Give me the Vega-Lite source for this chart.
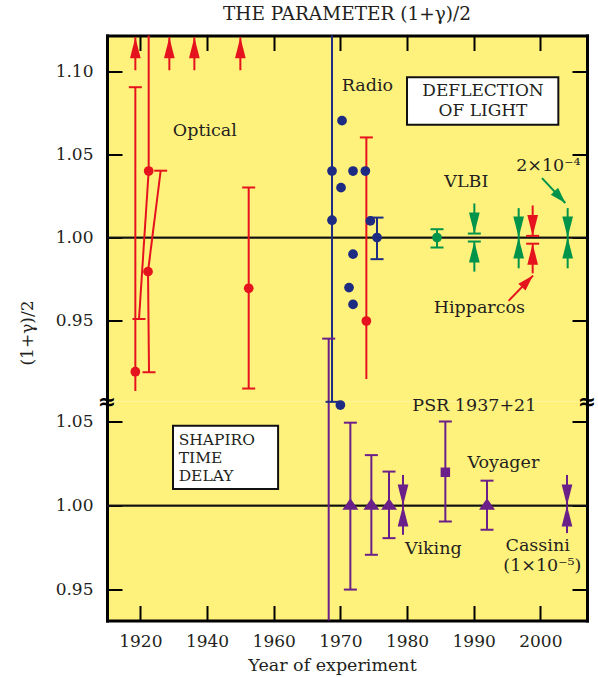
{
  "$schema": "https://vega.github.io/schema/vega-lite/v6.json",
  "background": "white",
  "padding": {"left": 18, "top": 4.5, "right": 8, "bottom": 5},
  "spacing": 0,
  "bounds": "flush",
  "config": {
    "view": {"stroke": null, "fill": "#fff27c"},
    "font": "DejaVu Serif",
    "axis": {"grid": false, "domainColor": "#000", "domainWidth": 3, "domainCap": "square", "tickColor": "#000", "tickWidth": 2, "tickSize": -15, "labelFont": "DejaVu Serif", "labelFontSize": 17, "labelColor": "#231f20", "labelPadding": 29, "titleFont": "DejaVu Serif", "titleFontWeight": "normal", "titleFontSize": 17.5, "titleColor": "#231f20"},
    "text": {"font": "DejaVu Serif", "fontSize": 17.5, "color": "#231f20"}
  },
  "datasets": {
    "tBars": [
      {"s": "r", "year": 1918.5, "year2": 1918.5, "v": 0.9077, "v2": 1.0904},
      {"s": "r", "year": 1922.5, "year2": 1922.5, "v": 1.04, "v2": 1.1215},
      {"s": "r", "year": 1922.5, "year2": 1919.6, "v": 1.04, "v2": 0.951},
      {"s": "r", "year": 1926.1, "year2": 1922.3, "v": 1.0402, "v2": 0.9795},
      {"s": "r", "year": 1922.3, "year2": 1922.6, "v": 0.9795, "v2": 0.919},
      {"s": "r", "year": 1952.5, "year2": 1952.5, "v": 0.9092, "v2": 1.0301},
      {"s": "r", "year": 1973.9, "year2": 1973.9, "v": 0.9149, "v2": 1.0602},
      {"s": "b", "year": 1968.75, "year2": 1968.75, "v": 0.9014, "v2": 1.1215},
      {"s": "b", "year": 1975.5, "year2": 1975.5, "v": 0.987, "v2": 1.012},
      {"s": "g", "year": 1984.5, "year2": 1984.5, "v": 0.994, "v2": 1.005}
    ],
    "tCaps": [
      {"s": "r", "year": 1918.5, "v": 1.0904},
      {"s": "r", "year": 1919.6, "v": 0.951},
      {"s": "r", "year": 1926.1, "v": 1.0402},
      {"s": "r", "year": 1922.6, "v": 0.919},
      {"s": "r", "year": 1952.5, "v": 1.0301},
      {"s": "r", "year": 1952.5, "v": 0.9092},
      {"s": "r", "year": 1973.9, "v": 1.0602},
      {"s": "r", "year": 1998.85, "v": 1.001},
      {"s": "r", "year": 1998.85, "v": 0.9963},
      {"s": "b", "year": 1975.5, "v": 0.987},
      {"s": "b", "year": 1975.5, "v": 1.012},
      {"s": "g", "year": 1984.5, "v": 0.994},
      {"s": "g", "year": 1984.5, "v": 1.005},
      {"s": "g", "year": 1990.1, "v": 1.0024},
      {"s": "g", "year": 1990.1, "v": 0.9976}
    ],
    "tDots": [
      {"s": "r", "year": 1918.5, "v": 0.9193},
      {"s": "r", "year": 1922.5, "v": 1.04},
      {"s": "r", "year": 1922.3, "v": 0.9795},
      {"s": "r", "year": 1952.5, "v": 0.9695},
      {"s": "r", "year": 1973.9, "v": 0.9498},
      {"s": "b", "year": 1968.75, "v": 1.04},
      {"s": "b", "year": 1968.75, "v": 1.0104},
      {"s": "b", "year": 1970.25, "v": 1.0703},
      {"s": "b", "year": 1970.1, "v": 1.03},
      {"s": "b", "year": 1971.9, "v": 1.04},
      {"s": "b", "year": 1973.75, "v": 1.04},
      {"s": "b", "year": 1974.5, "v": 1.01},
      {"s": "b", "year": 1975.5, "v": 1.0},
      {"s": "b", "year": 1971.9, "v": 0.99},
      {"s": "b", "year": 1971.3, "v": 0.9699},
      {"s": "b", "year": 1971.9, "v": 0.9598},
      {"s": "g", "year": 1984.5, "v": 1.0}
    ],
    "tDown": [
      {"s": "r", "year": 1998.85, "from": 1.0193, "tip": 1.001},
      {"s": "g", "year": 1990.1, "from": 1.0205, "tip": 1.0024},
      {"s": "g", "year": 1996.75, "from": 1.0177, "tip": 1.0},
      {"s": "g", "year": 2004.1, "from": 1.0177, "tip": 1.0}
    ],
    "tUp": [
      {"s": "r", "year": 1918.5, "from": 1.1006, "tip": 1.1205},
      {"s": "r", "year": 1928.7, "from": 1.1006, "tip": 1.1205},
      {"s": "r", "year": 1936.2, "from": 1.1006, "tip": 1.1205},
      {"s": "r", "year": 1950.0, "from": 1.1006, "tip": 1.1205},
      {"s": "r", "year": 1998.85, "from": 0.9785, "tip": 0.9963},
      {"s": "g", "year": 1990.1, "from": 0.9795, "tip": 0.9976},
      {"s": "g", "year": 1996.75, "from": 0.9815, "tip": 1.0},
      {"s": "g", "year": 2004.1, "from": 0.9815, "tip": 1.0}
    ],
    "tPointer": [
      {"s": "g", "year": 2000.25, "year2": 2003.75, "v": 1.0357, "v2": 1.0208},
      {"s": "r", "year": 1995.24, "year2": 1998.9, "v": 0.9619, "v2": 0.9771}
    ],
    "tText": [
      {"label": "Optical", "year": 1939.35, "v": 1.0639},
      {"label": "Radio", "year": 1974.05, "v": 1.091},
      {"label": "VLBI", "year": 1988.9, "v": 1.0331},
      {"label": "2×10⁻⁴", "year": 2001.2, "v": 1.0428},
      {"label": "Hipparcos", "year": 1990.85, "v": 0.9574}
    ],
    "tBox": [{"year": 1980.0, "year2": 2002.7, "v": 1.0679, "v2": 1.0964}],
    "tBoxText": [
      {"label": "DEFLECTION", "year": 1991.4, "v": 1.0883},
      {"label": "OF LIGHT", "year": 1991.4, "v": 1.0762}
    ],
    "bBars": [
      {"s": "p", "year": 1968.25, "v": 0.9316, "v2": 1.0993},
      {"s": "p", "year": 1971.5, "v": 0.95, "v2": 1.0493},
      {"s": "p", "year": 1974.65, "v": 0.9707, "v2": 1.03},
      {"s": "p", "year": 1977.3, "v": 0.9806, "v2": 1.0202},
      {"s": "p", "year": 1985.75, "v": 0.9905, "v2": 1.05},
      {"s": "p", "year": 1992.0, "v": 0.9856, "v2": 1.0148}
    ],
    "bCaps": [
      {"s": "p", "year": 1968.25, "v": 1.0993},
      {"s": "p", "year": 1971.5, "v": 0.95},
      {"s": "p", "year": 1971.5, "v": 1.0493},
      {"s": "p", "year": 1974.65, "v": 0.9707},
      {"s": "p", "year": 1974.65, "v": 1.03},
      {"s": "p", "year": 1977.3, "v": 0.9806},
      {"s": "p", "year": 1977.3, "v": 1.0202},
      {"s": "p", "year": 1985.75, "v": 0.9905},
      {"s": "p", "year": 1985.75, "v": 1.05},
      {"s": "p", "year": 1992.0, "v": 0.9856},
      {"s": "p", "year": 1992.0, "v": 1.0148},
      {"s": "b", "year": 1968.75, "v": 1.0617}
    ],
    "bDots": [
      {"s": "b", "year": 1970.0, "v": 1.0598}
    ],
    "bTri": [
      {"s": "p", "year": 1971.5, "v": 1.0},
      {"s": "p", "year": 1974.65, "v": 1.0},
      {"s": "p", "year": 1977.3, "v": 1.0},
      {"s": "p", "year": 1992.0, "v": 1.0}
    ],
    "bSq": [{"s": "p", "year": 1985.75, "v": 1.0198}],
    "bDown": [
      {"s": "p", "year": 1979.4, "from": 1.0182, "tip": 1.0},
      {"s": "p", "year": 2004.0, "from": 1.0182, "tip": 1.0}
    ],
    "bUp": [
      {"s": "p", "year": 1979.4, "from": 0.9826, "tip": 1.0},
      {"s": "p", "year": 2004.0, "from": 0.9836, "tip": 1.0}
    ],
    "bText": [
      {"label": "PSR 1937+21", "year": 1990.1, "v": 1.0591},
      {"label": "Voyager", "year": 1994.45, "v": 1.0252},
      {"label": "Viking", "year": 1983.95, "v": 0.9739},
      {"label": "Cassini", "year": 1999.6, "v": 0.9762},
      {"label": "(1×10⁻⁵)", "year": 2000.3, "v": 0.9638}
    ],
    "bBox": [{"year": 1929.8, "year2": 1960.66, "v": 1.0099, "v2": 1.0475}],
    "bBoxText": [
      {"label": "SHAPIRO", "year": 1931.5, "v": 1.0392},
      {"label": "TIME", "year": 1931.5, "v": 1.0285},
      {"label": "DELAY", "year": 1931.5, "v": 1.0178}
    ],
    "bBreak": [
      {"label": "≈", "year": 1910, "v": 1.0619},
      {"label": "≈", "year": 2007, "v": 1.0619}
    ]
  },
  "vconcat": [
    {
      "width": 480,
      "height": 366,
      "title": {"text": "THE PARAMETER (1+γ)/2", "font": "DejaVu Serif", "fontSize": 18.5, "fontWeight": "normal", "color": "#231f20", "offset": 11, "anchor": "middle"},
      "resolve": {"axis": {"x": "independent", "y": "independent"}},
      "layer": [
        {"data": {"values": [{"v": 1}]}, "mark": {"type": "rule", "color": "#111", "strokeWidth": 1.8},
         "encoding": {"y": {"field": "v", "type": "quantitative", "scale": {"domain": [0.9014, 1.1215], "nice": false, "zero": false},
           "axis": {"orient": "left", "values": [0.95, 1.0, 1.05, 1.1], "format": ".2f", "title": "(1+γ)/2", "titleX": -80, "titleY": 297, "titleAngle": -90, "titleAlign": "center", "titleBaseline": "middle", "titleFontSize": 17}}}},
        {"data": {"values": [{"v": 1}]}, "mark": {"type": "rule", "color": "#111", "strokeWidth": 1.8},
         "encoding": {"y": {"field": "v", "type": "quantitative", "scale": {"domain": [0.9014, 1.1215], "nice": false, "zero": false},
           "axis": {"orient": "right", "values": [0.95, 1.0, 1.05, 1.1], "labels": false, "title": null}}}},
        {"data": {"name": "tBars"}, "mark": {"type": "rule", "strokeWidth": 2},
         "encoding": {
           "x": {"field": "year", "type": "quantitative", "scale": {"domain": [1910, 1960, 2007], "range": [0, 166.7, 480], "nice": false, "zero": false},
             "axis": {"orient": "top", "values": [1920, 1940, 1960, 1970, 1980, 1990, 2000], "labels": false, "title": null}},
           "x2": {"field": "year2"},
           "y": {"field": "v", "type": "quantitative", "scale": {"domain": [0.9014, 1.1215], "nice": false, "zero": false}, "axis": null},
           "y2": {"field": "v2"},
           "color": {"field": "s", "type": "nominal", "scale": {"domain": ["r", "b", "g", "p"], "range": ["#e5131d", "#1d2b83", "#00934a", "#6b1f88"]}, "legend": null}}},
        {"data": {"name": "tPointer"}, "mark": {"type": "rule", "strokeWidth": 2},
         "encoding": {
           "x": {"field": "year", "type": "quantitative", "scale": {"domain": [1910, 1960, 2007], "range": [0, 166.7, 480], "nice": false, "zero": false}, "axis": null},
           "x2": {"field": "year2"},
           "y": {"field": "v", "type": "quantitative", "scale": {"domain": [0.9014, 1.1215], "nice": false, "zero": false}, "axis": null},
           "y2": {"field": "v2"},
           "color": {"field": "s", "type": "nominal", "scale": {"domain": ["r", "b", "g", "p"], "range": ["#e5131d", "#1d2b83", "#00934a", "#6b1f88"]}, "legend": null}}},
        {"data": {"name": "tCaps"}, "mark": {"type": "tick", "orient": "horizontal", "size": 13, "thickness": 2, "opacity": 1},
         "encoding": {
           "x": {"field": "year", "type": "quantitative", "scale": {"domain": [1910, 1960, 2007], "range": [0, 166.7, 480], "nice": false, "zero": false}, "axis": null},
           "y": {"field": "v", "type": "quantitative", "scale": {"domain": [0.9014, 1.1215], "nice": false, "zero": false}, "axis": null},
           "color": {"field": "s", "type": "nominal", "scale": {"domain": ["r", "b", "g", "p"], "range": ["#e5131d", "#1d2b83", "#00934a", "#6b1f88"]}, "legend": null}}},
        {"data": {"name": "tDown"}, "mark": {"type": "rule", "strokeWidth": 2},
         "encoding": {
           "x": {"field": "year", "type": "quantitative", "scale": {"domain": [1910, 1960, 2007], "range": [0, 166.7, 480], "nice": false, "zero": false}, "axis": null},
           "y": {"field": "from", "type": "quantitative", "scale": {"domain": [0.9014, 1.1215], "nice": false, "zero": false}, "axis": null},
           "y2": {"field": "tip"},
           "color": {"field": "s", "type": "nominal", "scale": {"domain": ["r", "b", "g", "p"], "range": ["#e5131d", "#1d2b83", "#00934a", "#6b1f88"]}, "legend": null}}},
        {"data": {"name": "tDown"}, "mark": {"type": "point", "shape": "M0,0L-1.07,-4.2L1.07,-4.2Z", "size": 100, "filled": true, "opacity": 1, "strokeWidth": 0},
         "encoding": {
           "x": {"field": "year", "type": "quantitative", "scale": {"domain": [1910, 1960, 2007], "range": [0, 166.7, 480], "nice": false, "zero": false}, "axis": null},
           "y": {"field": "tip", "type": "quantitative", "scale": {"domain": [0.9014, 1.1215], "nice": false, "zero": false}, "axis": null},
           "color": {"field": "s", "type": "nominal", "scale": {"domain": ["r", "b", "g", "p"], "range": ["#e5131d", "#1d2b83", "#00934a", "#6b1f88"]}, "legend": null}}},
        {"data": {"name": "tUp"}, "mark": {"type": "rule", "strokeWidth": 2},
         "encoding": {
           "x": {"field": "year", "type": "quantitative", "scale": {"domain": [1910, 1960, 2007], "range": [0, 166.7, 480], "nice": false, "zero": false}, "axis": null},
           "y": {"field": "from", "type": "quantitative", "scale": {"domain": [0.9014, 1.1215], "nice": false, "zero": false}, "axis": null},
           "y2": {"field": "tip"},
           "color": {"field": "s", "type": "nominal", "scale": {"domain": ["r", "b", "g", "p"], "range": ["#e5131d", "#1d2b83", "#00934a", "#6b1f88"]}, "legend": null}}},
        {"data": {"name": "tUp"}, "mark": {"type": "point", "shape": "M0,0L-1.07,4.2L1.07,4.2Z", "size": 100, "filled": true, "opacity": 1, "strokeWidth": 0},
         "encoding": {
           "x": {"field": "year", "type": "quantitative", "scale": {"domain": [1910, 1960, 2007], "range": [0, 166.7, 480], "nice": false, "zero": false}, "axis": null},
           "y": {"field": "tip", "type": "quantitative", "scale": {"domain": [0.9014, 1.1215], "nice": false, "zero": false}, "axis": null},
           "color": {"field": "s", "type": "nominal", "scale": {"domain": ["r", "b", "g", "p"], "range": ["#e5131d", "#1d2b83", "#00934a", "#6b1f88"]}, "legend": null}}},
        {"data": {"name": "tDots"}, "mark": {"type": "point", "shape": "circle", "size": 95, "filled": true, "opacity": 1, "strokeWidth": 0},
         "encoding": {
           "x": {"field": "year", "type": "quantitative", "scale": {"domain": [1910, 1960, 2007], "range": [0, 166.7, 480], "nice": false, "zero": false}, "axis": null},
           "y": {"field": "v", "type": "quantitative", "scale": {"domain": [0.9014, 1.1215], "nice": false, "zero": false}, "axis": null},
           "color": {"field": "s", "type": "nominal", "scale": {"domain": ["r", "b", "g", "p"], "range": ["#e5131d", "#1d2b83", "#00934a", "#6b1f88"]}, "legend": null}}},
        {"data": {"name": "tPointer"}, "transform": [{"filter": "datum.s == 'g'"}],
         "mark": {"type": "point", "shape": "M0,0L-1,-3.2L1,-3.2Z", "size": 100, "filled": true, "opacity": 1, "strokeWidth": 0, "angle": 317, "color": "#00934a"},
         "encoding": {
           "x": {"field": "year2", "type": "quantitative", "scale": {"domain": [1910, 1960, 2007], "range": [0, 166.7, 480], "nice": false, "zero": false}, "axis": null},
           "y": {"field": "v2", "type": "quantitative", "scale": {"domain": [0.9014, 1.1215], "nice": false, "zero": false}, "axis": null}}},
        {"data": {"name": "tPointer"}, "transform": [{"filter": "datum.s == 'r'"}],
         "mark": {"type": "point", "shape": "M0,0L-1,-3.2L1,-3.2Z", "size": 100, "filled": true, "opacity": 1, "strokeWidth": 0, "angle": 224, "color": "#e5131d"},
         "encoding": {
           "x": {"field": "year2", "type": "quantitative", "scale": {"domain": [1910, 1960, 2007], "range": [0, 166.7, 480], "nice": false, "zero": false}, "axis": null},
           "y": {"field": "v2", "type": "quantitative", "scale": {"domain": [0.9014, 1.1215], "nice": false, "zero": false}, "axis": null}}},
        {"data": {"name": "tBox"}, "mark": {"type": "rect", "fill": "white", "stroke": "#111", "strokeWidth": 2},
         "encoding": {
           "x": {"field": "year", "type": "quantitative", "scale": {"domain": [1910, 1960, 2007], "range": [0, 166.7, 480], "nice": false, "zero": false}, "axis": null},
           "x2": {"field": "year2"},
           "y": {"field": "v", "type": "quantitative", "scale": {"domain": [0.9014, 1.1215], "nice": false, "zero": false}, "axis": null},
           "y2": {"field": "v2"}}},
        {"data": {"name": "tText"}, "mark": {"type": "text", "align": "center", "baseline": "middle", "fontSize": 17.5},
         "encoding": {
           "x": {"field": "year", "type": "quantitative", "scale": {"domain": [1910, 1960, 2007], "range": [0, 166.7, 480], "nice": false, "zero": false}, "axis": null},
           "y": {"field": "v", "type": "quantitative", "scale": {"domain": [0.9014, 1.1215], "nice": false, "zero": false}, "axis": null},
           "text": {"field": "label"}}},
        {"data": {"name": "tBoxText"}, "mark": {"type": "text", "align": "center", "baseline": "middle", "fontSize": 17},
         "encoding": {
           "x": {"field": "year", "type": "quantitative", "scale": {"domain": [1910, 1960, 2007], "range": [0, 166.7, 480], "nice": false, "zero": false}, "axis": null},
           "y": {"field": "v", "type": "quantitative", "scale": {"domain": [0.9014, 1.1215], "nice": false, "zero": false}, "axis": null},
           "text": {"field": "label"}}}
      ]
    },
    {
      "width": 480,
      "height": 219,
      "resolve": {"axis": {"x": "independent", "y": "independent"}},
      "layer": [
        {"data": {"values": [{"v": 1}]}, "mark": {"type": "rule", "color": "#111", "strokeWidth": 1.8},
         "encoding": {"y": {"field": "v", "type": "quantitative", "scale": {"domain": [0.9316, 1.0619], "nice": false, "zero": false},
           "axis": {"orient": "left", "values": [0.95, 1.0, 1.05], "format": ".2f", "title": null}}}},
        {"data": {"values": [{"v": 1}]}, "mark": {"type": "rule", "color": "#111", "strokeWidth": 1.8},
         "encoding": {"y": {"field": "v", "type": "quantitative", "scale": {"domain": [0.9316, 1.0619], "nice": false, "zero": false},
           "axis": {"orient": "right", "values": [0.95, 1.0, 1.05], "labels": false, "title": null}}}},
        {"data": {"name": "bBars"}, "mark": {"type": "rule", "strokeWidth": 2},
         "encoding": {
           "x": {"field": "year", "type": "quantitative", "scale": {"domain": [1910, 1960, 2007], "range": [0, 166.7, 480], "nice": false, "zero": false},
             "axis": {"orient": "bottom", "values": [1920, 1940, 1960, 1970, 1980, 1990, 2000], "format": "d", "title": "Year of experiment", "titleX": 225, "titleY": 45, "titleAlign": "center", "titleBaseline": "middle", "labelPadding": 28}},
           "y": {"field": "v", "type": "quantitative", "scale": {"domain": [0.9316, 1.0619], "nice": false, "zero": false}, "axis": null},
           "y2": {"field": "v2"},
           "color": {"field": "s", "type": "nominal", "scale": {"domain": ["r", "b", "g", "p"], "range": ["#e5131d", "#1d2b83", "#00934a", "#6b1f88"]}, "legend": null}}},
        {"data": {"name": "bCaps"}, "mark": {"type": "tick", "orient": "horizontal", "size": 13, "thickness": 2, "opacity": 1},
         "encoding": {
           "x": {"field": "year", "type": "quantitative", "scale": {"domain": [1910, 1960, 2007], "range": [0, 166.7, 480], "nice": false, "zero": false}, "axis": null},
           "y": {"field": "v", "type": "quantitative", "scale": {"domain": [0.9316, 1.0619], "nice": false, "zero": false}, "axis": null},
           "color": {"field": "s", "type": "nominal", "scale": {"domain": ["r", "b", "g", "p"], "range": ["#e5131d", "#1d2b83", "#00934a", "#6b1f88"]}, "legend": null}}},
        {"data": {"name": "bDots"}, "mark": {"type": "point", "shape": "circle", "size": 95, "filled": true, "opacity": 1, "strokeWidth": 0},
         "encoding": {
           "x": {"field": "year", "type": "quantitative", "scale": {"domain": [1910, 1960, 2007], "range": [0, 166.7, 480], "nice": false, "zero": false}, "axis": null},
           "y": {"field": "v", "type": "quantitative", "scale": {"domain": [0.9316, 1.0619], "nice": false, "zero": false}, "axis": null},
           "color": {"field": "s", "type": "nominal", "scale": {"domain": ["r", "b", "g", "p"], "range": ["#e5131d", "#1d2b83", "#00934a", "#6b1f88"]}, "legend": null}}},
        {"data": {"name": "bDown"}, "mark": {"type": "rule", "strokeWidth": 2},
         "encoding": {
           "x": {"field": "year", "type": "quantitative", "scale": {"domain": [1910, 1960, 2007], "range": [0, 166.7, 480], "nice": false, "zero": false}, "axis": null},
           "y": {"field": "from", "type": "quantitative", "scale": {"domain": [0.9316, 1.0619], "nice": false, "zero": false}, "axis": null},
           "y2": {"field": "tip"},
           "color": {"field": "s", "type": "nominal", "scale": {"domain": ["r", "b", "g", "p"], "range": ["#e5131d", "#1d2b83", "#00934a", "#6b1f88"]}, "legend": null}}},
        {"data": {"name": "bDown"}, "mark": {"type": "point", "shape": "M0,0L-1.07,-4.2L1.07,-4.2Z", "size": 100, "filled": true, "opacity": 1, "strokeWidth": 0},
         "encoding": {
           "x": {"field": "year", "type": "quantitative", "scale": {"domain": [1910, 1960, 2007], "range": [0, 166.7, 480], "nice": false, "zero": false}, "axis": null},
           "y": {"field": "tip", "type": "quantitative", "scale": {"domain": [0.9316, 1.0619], "nice": false, "zero": false}, "axis": null},
           "color": {"field": "s", "type": "nominal", "scale": {"domain": ["r", "b", "g", "p"], "range": ["#e5131d", "#1d2b83", "#00934a", "#6b1f88"]}, "legend": null}}},
        {"data": {"name": "bUp"}, "mark": {"type": "rule", "strokeWidth": 2},
         "encoding": {
           "x": {"field": "year", "type": "quantitative", "scale": {"domain": [1910, 1960, 2007], "range": [0, 166.7, 480], "nice": false, "zero": false}, "axis": null},
           "y": {"field": "from", "type": "quantitative", "scale": {"domain": [0.9316, 1.0619], "nice": false, "zero": false}, "axis": null},
           "y2": {"field": "tip"},
           "color": {"field": "s", "type": "nominal", "scale": {"domain": ["r", "b", "g", "p"], "range": ["#e5131d", "#1d2b83", "#00934a", "#6b1f88"]}, "legend": null}}},
        {"data": {"name": "bUp"}, "mark": {"type": "point", "shape": "M0,0L-1.07,4.2L1.07,4.2Z", "size": 100, "filled": true, "opacity": 1, "strokeWidth": 0},
         "encoding": {
           "x": {"field": "year", "type": "quantitative", "scale": {"domain": [1910, 1960, 2007], "range": [0, 166.7, 480], "nice": false, "zero": false}, "axis": null},
           "y": {"field": "tip", "type": "quantitative", "scale": {"domain": [0.9316, 1.0619], "nice": false, "zero": false}, "axis": null},
           "color": {"field": "s", "type": "nominal", "scale": {"domain": ["r", "b", "g", "p"], "range": ["#e5131d", "#1d2b83", "#00934a", "#6b1f88"]}, "legend": null}}},
        {"data": {"name": "bTri"}, "mark": {"type": "point", "shape": "M0,-1.46L1.6,0.86L-1.6,0.86Z", "size": 100, "filled": true, "opacity": 1, "strokeWidth": 0},
         "encoding": {
           "x": {"field": "year", "type": "quantitative", "scale": {"domain": [1910, 1960, 2007], "range": [0, 166.7, 480], "nice": false, "zero": false}, "axis": null},
           "y": {"field": "v", "type": "quantitative", "scale": {"domain": [0.9316, 1.0619], "nice": false, "zero": false}, "axis": null},
           "color": {"field": "s", "type": "nominal", "scale": {"domain": ["r", "b", "g", "p"], "range": ["#e5131d", "#1d2b83", "#00934a", "#6b1f88"]}, "legend": null}}},
        {"data": {"name": "bSq"}, "mark": {"type": "point", "shape": "square", "size": 90, "filled": true, "opacity": 1, "strokeWidth": 0},
         "encoding": {
           "x": {"field": "year", "type": "quantitative", "scale": {"domain": [1910, 1960, 2007], "range": [0, 166.7, 480], "nice": false, "zero": false}, "axis": null},
           "y": {"field": "v", "type": "quantitative", "scale": {"domain": [0.9316, 1.0619], "nice": false, "zero": false}, "axis": null},
           "color": {"field": "s", "type": "nominal", "scale": {"domain": ["r", "b", "g", "p"], "range": ["#e5131d", "#1d2b83", "#00934a", "#6b1f88"]}, "legend": null}}},
        {"data": {"name": "bBox"}, "mark": {"type": "rect", "fill": "white", "stroke": "#111", "strokeWidth": 2},
         "encoding": {
           "x": {"field": "year", "type": "quantitative", "scale": {"domain": [1910, 1960, 2007], "range": [0, 166.7, 480], "nice": false, "zero": false}, "axis": null},
           "x2": {"field": "year2"},
           "y": {"field": "v", "type": "quantitative", "scale": {"domain": [0.9316, 1.0619], "nice": false, "zero": false}, "axis": null},
           "y2": {"field": "v2"}}},
        {"data": {"name": "bText"}, "mark": {"type": "text", "align": "center", "baseline": "middle", "fontSize": 17.5},
         "encoding": {
           "x": {"field": "year", "type": "quantitative", "scale": {"domain": [1910, 1960, 2007], "range": [0, 166.7, 480], "nice": false, "zero": false}, "axis": null},
           "y": {"field": "v", "type": "quantitative", "scale": {"domain": [0.9316, 1.0619], "nice": false, "zero": false}, "axis": null},
           "text": {"field": "label"}}},
        {"data": {"name": "bBoxText"}, "mark": {"type": "text", "align": "left", "baseline": "middle", "fontSize": 15.5},
         "encoding": {
           "x": {"field": "year", "type": "quantitative", "scale": {"domain": [1910, 1960, 2007], "range": [0, 166.7, 480], "nice": false, "zero": false}, "axis": null},
           "y": {"field": "v", "type": "quantitative", "scale": {"domain": [0.9316, 1.0619], "nice": false, "zero": false}, "axis": null},
           "text": {"field": "label"}}},
        {"data": {"name": "bBreak"}, "mark": {"type": "text", "align": "center", "baseline": "middle", "fontSize": 22, "font": "DejaVu Sans", "fontWeight": "bold", "color": "#000"},
         "encoding": {
           "x": {"field": "year", "type": "quantitative", "scale": {"domain": [1910, 1960, 2007], "range": [0, 166.7, 480], "nice": false, "zero": false}, "axis": null},
           "y": {"field": "v", "type": "quantitative", "scale": {"domain": [0.9316, 1.0619], "nice": false, "zero": false}, "axis": null},
           "text": {"field": "label"}}}
      ]
    }
  ]
}
